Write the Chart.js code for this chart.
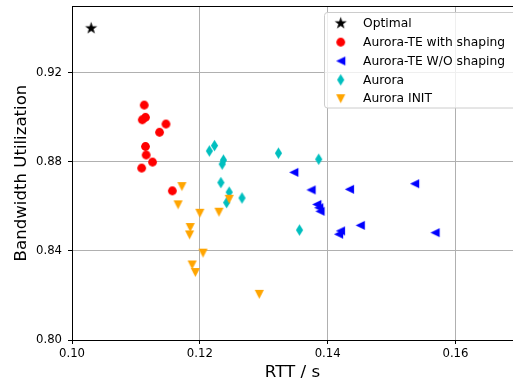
<!DOCTYPE html>
<html>
<head>
<meta charset="utf-8">
<script src="https://cdn.jsdelivr.net/npm/chart.js@4/dist/chart.umd.min.js"></script>
<style>
    body { margin: 0; background: #fff; }
</style>
</head>
<body>
<canvas id="grafico" width="513" height="383"></canvas>
<script>
// valores
const optimalRtt = [0.1030];
const optimalUtil = [0.9400];

const shapingRtt = [0.1113, 0.1110, 0.1115, 0.1147, 0.1137, 0.1115, 0.1116, 0.1126, 0.1109, 0.1157];
const shapingUtil = [0.9055, 0.8989, 0.9000, 0.8970, 0.8933, 0.8869, 0.8831, 0.8799, 0.8772, 0.8670];

const noShapingRtt = [0.1347, 0.1374, 0.1434, 0.1536, 0.1383, 0.1386, 0.1388, 0.1451, 0.1420, 0.1417, 0.1568];
const noShapingUtil = [0.8753, 0.8674, 0.8677, 0.8702, 0.8609, 0.8594, 0.8578, 0.8515, 0.8490, 0.8475, 0.8482];

const auroraRtt = [0.1215, 0.1223, 0.1237, 0.1235, 0.1233, 0.1246, 0.1242, 0.1266, 0.1323, 0.1386, 0.1356];
const auroraUtil = [0.8849, 0.8873, 0.8808, 0.8790, 0.8707, 0.8664, 0.8617, 0.8638, 0.8839, 0.8812, 0.8494];

const initRtt = [0.1172, 0.1166, 0.1200, 0.1230, 0.1246, 0.1185, 0.1184, 0.1205, 0.1188, 0.1193, 0.1293];
const initUtil = [0.8689, 0.8607, 0.8569, 0.8574, 0.8632, 0.8505, 0.8472, 0.8390, 0.8337, 0.8303, 0.8205];

const xTicks = [0.10, 0.12, 0.14, 0.16];
const yTicks = [0.80, 0.84, 0.88, 0.92];

document.addEventListener('DOMContentLoaded', function(){
    montarGrafico();
});

function pontos(xs, ys){
    return xs.map((x, i) => ({ x: x, y: ys[i] }));
}

// marcadores desenhados num canvas pequeno
function marcador(cor, desenho){
    const c = document.createElement('canvas');
    c.width = 15;
    c.height = 15;
    const g = c.getContext('2d');
    g.fillStyle = cor;
    g.translate(7.5, 7.5);
    g.beginPath();
    desenho(g);
    g.closePath();
    g.fill();
    return c;
}

const estrela = marcador('#000000', function(g){
    for (let i = 0; i < 10; i++) {
        const r = i % 2 === 0 ? 6.4 : 2.5;
        const a = -Math.PI / 2 + i * Math.PI / 5;
        g.lineTo(r * Math.cos(a), r * Math.sin(a));
    }
});
const circulo = marcador('#ff0000', function(g){
    g.arc(0, 0, 4.4, 0, Math.PI * 2);
});
const trianguloEsq = marcador('#0000ff', function(g){
    g.moveTo(-4.6, 0);
    g.lineTo(4.6, -4.6);
    g.lineTo(4.6, 4.6);
});
const losango = marcador('#00bfbf', function(g){
    g.moveTo(0, -5.8);
    g.lineTo(3.6, 0);
    g.lineTo(0, 5.8);
    g.lineTo(-3.6, 0);
});
const trianguloBaixo = marcador('#ffa500', function(g){
    g.moveTo(-4.6, -4.6);
    g.lineTo(4.6, -4.6);
    g.lineTo(0, 4.6);
});

const moldura = {
    id: 'moldura',
    afterDraw(chart){
        const ctx = chart.ctx;
        const a = chart.chartArea;
        ctx.save();
        // eixo de cima
        ctx.strokeStyle = '#000';
        ctx.lineWidth = 1;
        ctx.beginPath();
        ctx.moveTo(a.left, a.top + 0.5);
        ctx.lineTo(a.right, a.top + 0.5);
        ctx.stroke();

        // legenda
        const x0 = 324.5, y0 = 12.5, w = 200, h = 95.5, r = 3;
        ctx.beginPath();
        ctx.moveTo(x0 + r, y0);
        ctx.lineTo(x0 + w, y0);
        ctx.lineTo(x0 + w, y0 + h);
        ctx.lineTo(x0 + r, y0 + h);
        ctx.arcTo(x0, y0 + h, x0, y0 + h - r, r);
        ctx.lineTo(x0, y0 + r);
        ctx.arcTo(x0, y0, x0 + r, y0, r);
        ctx.closePath();
        ctx.fillStyle = 'rgba(255,255,255,0.8)';
        ctx.fill();
        ctx.strokeStyle = '#cccccc';
        ctx.stroke();

        ctx.font = '12.3px "DejaVu Sans"';
        ctx.fillStyle = '#000';
        ctx.textBaseline = 'middle';
        ctx.textAlign = 'left';
        chart.data.datasets.forEach(function(ds, i){
            const y = 23.3 + i * 18.85;
            const img = ds.pointStyle;
            ctx.drawImage(img, 340.7 - img.width / 2, y - img.height / 2);
            ctx.fillText(ds.label, 363, y + 0.5);
        });
        ctx.restore();
    }
};

function montarGrafico(){
    const ctx = document.getElementById('grafico');
    Chart.defaults.font.family = '"DejaVu Sans"';
    Chart.defaults.color = '#000';
    new Chart(ctx, {
        type: 'scatter',
        data: {
            datasets: [
                { label: 'Optimal', data: pontos(optimalRtt, optimalUtil), pointStyle: estrela, order: 4 },
                { label: 'Aurora-TE with shaping', data: pontos(shapingRtt, shapingUtil), pointStyle: circulo, order: 3 },
                { label: 'Aurora-TE W/O shaping', data: pontos(noShapingRtt, noShapingUtil), pointStyle: trianguloEsq, order: 2 },
                { label: 'Aurora', data: pontos(auroraRtt, auroraUtil), pointStyle: losango, order: 1 },
                { label: 'Aurora INIT', data: pontos(initRtt, initUtil), pointStyle: trianguloBaixo, order: 0 }
            ]
        },
        options: {
            responsive: false,
            animation: false,
            events: [],
            layout: { autoPadding: false, padding: { top: 6, right: 0, left: 0, bottom: 0 } },
            plugins: {
                legend: { display: false },
                tooltip: { enabled: false }
            },
            scales: {
                x: {
                    type: 'linear',
                    min: 0.10,
                    max: 0.169,
                    afterBuildTicks: function(s){ s.ticks = xTicks.map(v => ({ value: v })); },
                    afterFit: function(s){
                        s.height = 43;
                        s.paddingLeft = 0;
                        s.paddingRight = 0;
                    },
                    grid: { color: '#b0b0b0', lineWidth: 1, tickColor: '#000', tickLength: 4 },
                    border: { display: true, color: '#000', width: 1 },
                    ticks: {
                        padding: 3,
                        font: { size: 11.7 },
                        callback: v => v.toFixed(2)
                    },
                    title: {
                        display: true,
                        text: 'RTT / s',
                        font: { size: 16.7 },
                        padding: { top: 0, bottom: 0 }
                    }
                },
                y: {
                    type: 'linear',
                    min: 0.80,
                    max: 0.95,
                    afterBuildTicks: function(s){ s.ticks = yTicks.map(v => ({ value: v })); },
                    afterFit: function(s){
                        s.width = 72;
                        s.paddingTop = 0;
                        s.paddingBottom = 0;
                    },
                    grid: { color: '#b0b0b0', lineWidth: 1, tickColor: '#000', tickLength: 4 },
                    border: { display: true, color: '#000', width: 1 },
                    ticks: {
                        padding: 6,
                        font: { size: 11.7 },
                        callback: v => v.toFixed(2)
                    },
                    title: {
                        display: true,
                        text: 'Bandwidth Utilization',
                        font: { size: 16.6 },
                        padding: { top: 12, bottom: 0 }
                    }
                }
            }
        },
        plugins: [moldura]
    });
}
</script>
</body>
</html>
